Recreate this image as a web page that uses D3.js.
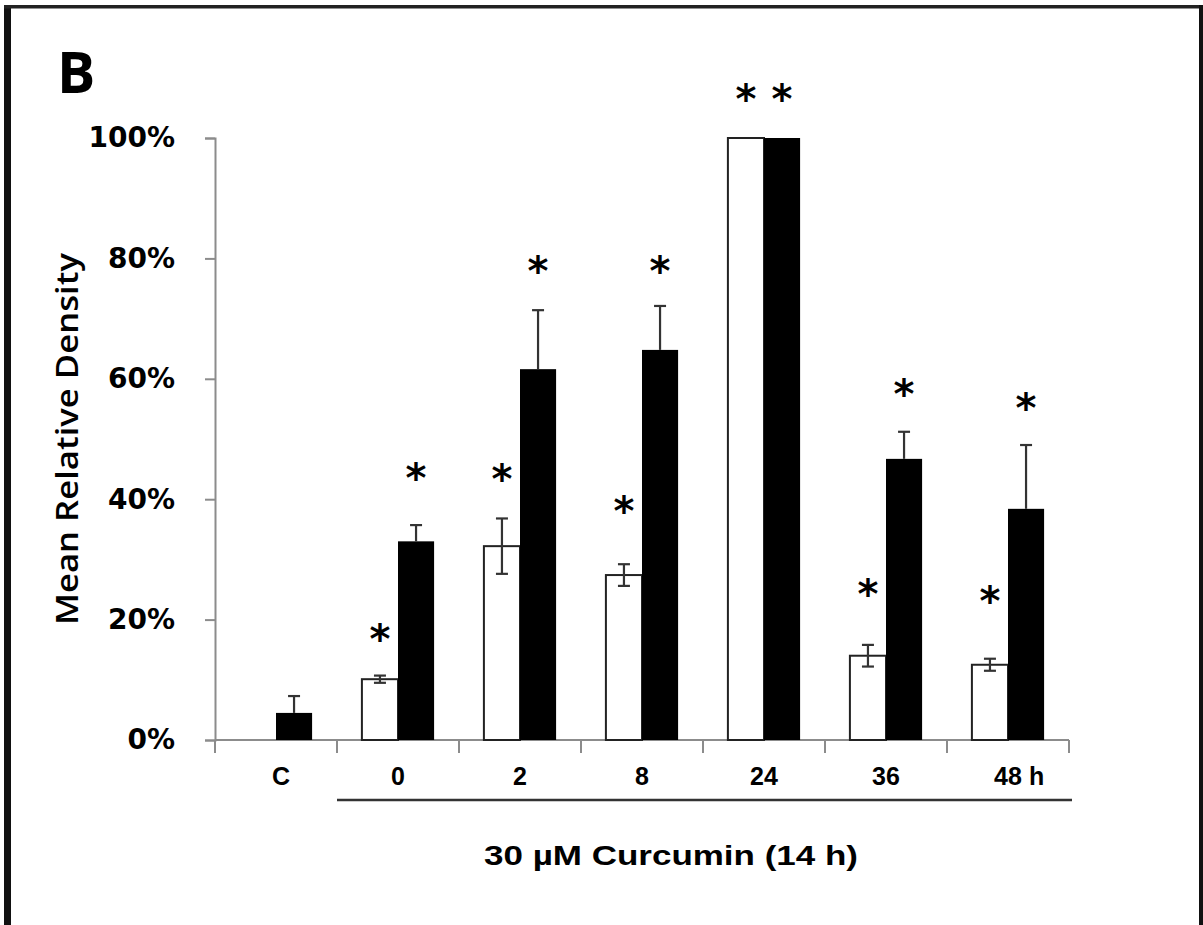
<!DOCTYPE html>
<html>
<head>
<meta charset="utf-8">
<script src="https://cdn.jsdelivr.net/npm/d3@7"></script>
<style>
  html, body { margin: 0; padding: 0; background: #fff; }
  svg { display: block; }
</style>
</head>
<body>
<script>
// data (values in %)
const groups = ["C", "0", "2", "8", "24", "36", "48"];
const whiteVals = [null, 10.1, 32.2, 27.4, 100, 14.0, 12.5];
const whiteErr = [null, 0.6, 4.6, 1.8, 0, 1.8, 1.0];
const blackVals = [4.5, 33.0, 61.6, 64.8, 100, 46.7, 38.4];
const blackErr = [2.8, 2.7, 9.8, 7.3, 0, 4.5, 10.6];
// height (in %) where the significance stars sit
const whiteStar = [null, 17.8, 44.4, 39.0, 107.5, 25.2, 24.1];
const blackStar = [null, 44.5, 78.9, 78.9, 107.5, 58.5, 56.1];
const yTicks = [0, 20, 40, 60, 80, 100];

const width = 1203, height = 925;

const svg = d3.select("body").append("svg")
    .attr("width", width)
    .attr("height", height);

// frame
svg.append("rect").attr("x", 4).attr("y", 5).attr("width", 7).attr("height", height - 5).attr("fill", "#111");
svg.append("rect").attr("x", 4).attr("y", 5).attr("width", width - 4).attr("height", 3.5).attr("fill", "#222");
svg.append("rect").attr("x", 1199).attr("y", 5).attr("width", 4).attr("height", height - 5).attr("fill", "#111");

const x = d3.scaleBand().domain(groups).range([215, 1069]).padding(0);
const xs = d3.scaleBand().domain(["w", "b"]).range([0, x.bandwidth()])
    .paddingInner(0).paddingOuter(0.69);
const y = d3.scaleLinear().domain([0, 100]).range([740, 138]);

// y axis
const yAxis = svg.append("g")
    .attr("transform", "translate(215,0)")
    .call(d3.axisLeft(y).tickValues(yTicks).tickFormat(d => d + "%")
        .tickSize(10).tickSizeOuter(10).tickPadding(30));
yAxis.selectAll("path, line").attr("stroke", "#8c8c8c").attr("stroke-width", 2);
yAxis.selectAll("text")
    .attr("font-family", "DejaVu Sans")
    .attr("font-weight", "bold")
    .attr("font-size", 28)
    .attr("fill", "#000");

// x axis baseline and separators
const gx = svg.append("g");
gx.append("line")
    .attr("x1", x.range()[0]).attr("x2", x.range()[1])
    .attr("y1", y(0)).attr("y2", y(0))
    .attr("stroke", "#8c8c8c").attr("stroke-width", 2);
const bounds = groups.map(g => x(g)).concat([x.range()[1]]);
gx.selectAll("line.sep").data(bounds).join("line")
    .attr("class", "sep")
    .attr("x1", d => d).attr("x2", d => d)
    .attr("y1", y(0)).attr("y2", y(0) + 13)
    .attr("stroke", "#8c8c8c").attr("stroke-width", 2);

const groupData = groups.map((g, i) => ({
    g, w: whiteVals[i], we: whiteErr[i], b: blackVals[i], be: blackErr[i],
    ws: whiteStar[i], bs: blackStar[i]
}));

// bars
const bars = svg.append("g");
bars.selectAll("rect.white").data(groupData.filter(d => d.w != null)).join("rect")
    .attr("class", "white")
    .attr("x", d => x(d.g) + xs("w"))
    .attr("y", d => y(d.w))
    .attr("width", xs.bandwidth())
    .attr("height", d => y(0) - y(d.w))
    .attr("fill", "#fff")
    .attr("stroke", "#222")
    .attr("stroke-width", 2);
bars.selectAll("rect.black").data(groupData).join("rect")
    .attr("class", "black")
    .attr("x", d => x(d.g) + xs("b"))
    .attr("y", d => y(d.b))
    .attr("width", xs.bandwidth())
    .attr("height", d => y(0) - y(d.b))
    .attr("fill", "#000");

// error bars
const errs = [];
groupData.forEach(d => {
    if (d.w != null && d.we > 0) errs.push({ cx: x(d.g) + xs("w") + xs.bandwidth() / 2, v: d.w, e: d.we, lo: true });
    if (d.be > 0) errs.push({ cx: x(d.g) + xs("b") + xs.bandwidth() / 2, v: d.b, e: d.be, lo: false });
});
const eg = svg.append("g").attr("stroke", "#333").attr("stroke-width", 2.2);
eg.selectAll("line.stem").data(errs).join("line")
    .attr("class", "stem")
    .attr("x1", d => d.cx).attr("x2", d => d.cx)
    .attr("y1", d => y(d.lo ? d.v - d.e : d.v)).attr("y2", d => y(d.v + d.e));
eg.selectAll("line.top").data(errs).join("line")
    .attr("class", "top")
    .attr("x1", d => d.cx - 6).attr("x2", d => d.cx + 6)
    .attr("y1", d => y(d.v + d.e)).attr("y2", d => y(d.v + d.e));
eg.selectAll("line.bot").data(errs.filter(d => d.lo)).join("line")
    .attr("class", "bot")
    .attr("x1", d => d.cx - 6).attr("x2", d => d.cx + 6)
    .attr("y1", d => y(d.v - d.e)).attr("y2", d => y(d.v - d.e));

// significance stars
const stars = [];
groupData.forEach(d => {
    if (d.ws != null) stars.push({ cx: x(d.g) + xs("w") + xs.bandwidth() / 2, v: d.ws });
    if (d.bs != null) stars.push({ cx: x(d.g) + xs("b") + xs.bandwidth() / 2, v: d.bs });
});
const starSize = 40;
svg.append("g").selectAll("text").data(stars).join("text")
    .attr("x", d => d.cx)
    .attr("y", d => y(d.v) + starSize * 0.5)
    .attr("text-anchor", "middle")
    .attr("font-family", "DejaVu Sans")
    .attr("font-weight", "bold")
    .attr("font-size", starSize)
    .attr("fill", "#000")
    .text("*");

// category labels
const labels = svg.append("g")
    .attr("font-family", "Liberation Sans")
    .attr("font-weight", "bold")
    .attr("font-size", 25)
    .attr("fill", "#000");
labels.selectAll("text").data(groups).join("text")
    .attr("x", d => x(d) + x.bandwidth() / 2 + (d === "C" ? 5 : 0))
    .attr("y", 785)
    .attr("text-anchor", "middle")
    .text(d => d);
labels.append("text")
    .attr("x", x("48") + x.bandwidth() / 2 + 21)
    .attr("y", 785)
    .text("h");

// bracket under treated groups
svg.append("line")
    .attr("x1", x("0")).attr("x2", x.range()[1] + 3)
    .attr("y1", 800).attr("y2", 800)
    .attr("stroke", "#333").attr("stroke-width", 2.5);

svg.append("text")
    .attr("x", 671).attr("y", 865)
    .attr("text-anchor", "middle")
    .attr("font-family", "Liberation Sans")
    .attr("font-weight", "bold")
    .attr("font-size", 27)
    .attr("textLength", 374)
    .attr("lengthAdjust", "spacingAndGlyphs")
    .text("30 µM Curcumin (14 h)");

// y title
svg.append("text")
    .attr("transform", "translate(78,439) rotate(-90)")
    .attr("text-anchor", "middle")
    .attr("font-family", "Open Sans")
    .attr("font-weight", 600)
    .attr("font-size", 31)
    .attr("textLength", 372)
    .attr("lengthAdjust", "spacingAndGlyphs")
    .text("Mean Relative Density");

// panel letter
svg.append("text")
    .attr("x", 57).attr("y", 93)
    .attr("font-family", "Open Sans")
    .attr("font-weight", "bold")
    .attr("font-size", 57)
    .attr("fill", "#000")
    .text("B");
</script>
</body>
</html>
